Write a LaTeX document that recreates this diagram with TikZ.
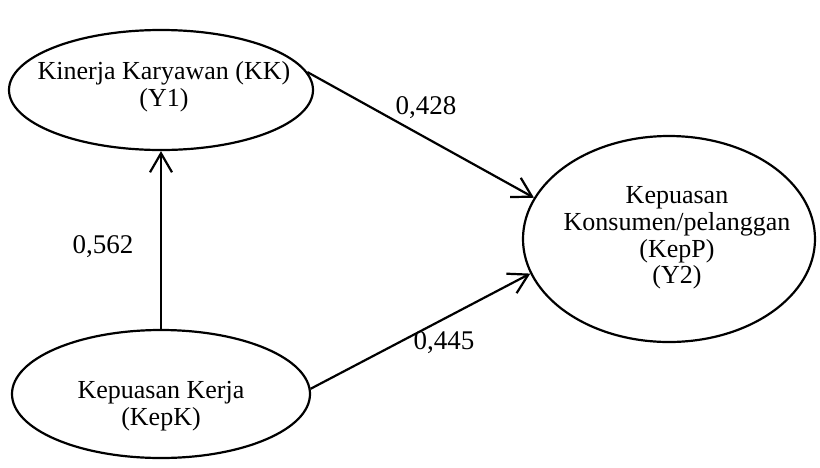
\documentclass[tikz,border=0pt]{standalone}
\usepackage{fontspec}
\setmainfont{Liberation Serif}
\usepackage{tikz}
\usetikzlibrary{shapes, positioning, arrows.meta}

\begin{document}
\begin{tikzpicture}[x=1pt, y=-1pt,
	konstruk/.style={draw, ellipse, line width=2.2pt, inner sep=0pt},
	teks/.style={align=center, font=\fontsize{26}{26.7}\selectfont},
	bobot/.style={font=\fontsize{27}{29}\selectfont},
	panah/.style={line width=2.2pt, -{Straight Barb[length=19pt, width=22pt]}}]

	\useasboundingbox (0,0) rectangle (820,467);

	% variabel laten
	\node [konstruk, minimum width=304pt, minimum height=120pt] (kk) at (161,90) {};
	\node [konstruk, minimum width=298pt, minimum height=128pt] (kepk) at (161,394) {};
	\node [konstruk, minimum width=292pt, minimum height=206pt] (kepp) at (669,239) {};

	\node [teks] (kk-teks) at (164,87) {Kinerja Karyawan (KK)\\(Y1)};
	\node [teks] (kepk-teks) at (161,406) {Kepuasan Kerja\\(KepK)};
	\node [teks] (kepp-teks) at (677,238) {Kepuasan\\Konsumen/pelanggan\\(KepP)\\(Y2)};

	% jalur
	\draw [panah] (kk.7) -- (kepp.163);
	\draw [panah] (kepk.2) -- (kepp.194);
	\draw [panah] (kepk) -- (kk);

	\node [bobot] (b-kk) at (426,108) {0,428};
	\node [bobot] (b-kepk) at (103,247) {0,562};
	\node [bobot] (b-kepp) at (444,343) {0,445};
\end{tikzpicture}
\end{document}
